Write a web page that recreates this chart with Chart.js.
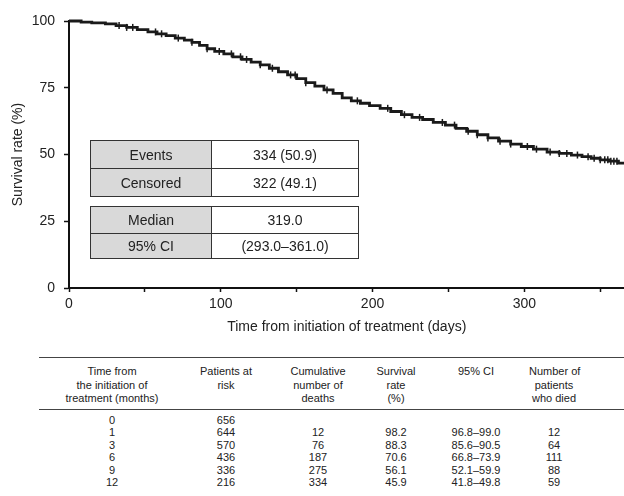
<!DOCTYPE html>
<html>
<head>
<meta charset="utf-8">
<script src="https://cdn.jsdelivr.net/npm/chart.js@4"></script>
<style>
  body { margin: 0; width: 624px; height: 496px; background: #fff; position: relative; overflow: hidden;
         font-family: "Liberation Sans", Arial, sans-serif; color: #222; }
  #wrap { position: absolute; left: 0; top: 0; width: 624px; height: 340px; overflow: hidden; }
  .inset { position: absolute; left: 90px; width: 269px; border-collapse: collapse; font-size: 14px; }
  .inset td { border: 1px solid #333; text-align: center; padding: 0; }
  .inset td.k { background: #d9d9d9; width: 120px; }
  #risk { position: absolute; left: 39px; top: 357px; width: 585px; border-collapse: collapse;
          table-layout: fixed; font-size: 11px; color: #222; }
  #risk th { font-weight: normal; vertical-align: top; line-height: 13.5px; padding: 7px 0 3px 0;
             border-top: 1.5px solid #444; border-bottom: 1px solid #444; white-space: nowrap; }
  #risk td { text-align: center; line-height: 12.6px; padding: 0; white-space: nowrap; }
  #risk tbody tr:first-child td { padding-top: 4px; }
</style>
</head>
<body>
<div id="wrap"><canvas id="myChart" width="630" height="340"></canvas></div>

<table class="inset" style="top:140px;">
  <tr style="height:28px"><td class="k">Events</td><td>334 (50.9)</td></tr>
  <tr style="height:28px"><td class="k">Censored</td><td>322 (49.1)</td></tr>
</table>
<table class="inset" style="top:206px;">
  <tr style="height:27px"><td class="k">Median</td><td>319.0</td></tr>
  <tr style="height:25px"><td class="k">95% CI</td><td>(293.0–361.0)</td></tr>
</table>

<table id="risk">
  <colgroup>
    <col style="width:146px"><col style="width:82px"><col style="width:102px">
    <col style="width:54px"><col style="width:106px"><col style="width:50px"><col style="width:45px">
  </colgroup>
  <thead><tr id="riskHead"></tr></thead>
  <tbody id="riskBody"></tbody>
</table>

<script>
// Kaplan-Meier curve (days, survival %)
const eventDays = [0, 8, 15, 24, 31, 38, 45, 52, 58, 64, 70, 76, 81, 86, 91, 96, 102, 108, 114, 120,
  126, 132, 138, 144, 150, 156, 162, 168, 174, 180, 186, 192, 198, 205, 212, 219, 226, 233, 240, 248,
  255, 262, 269, 276, 283, 291, 298, 306, 315, 323, 331, 338, 344, 350, 356, 362, 366];
const survival = [100, 99.6, 99.3, 98.9, 98.3, 97.6, 96.8, 95.9, 95.2, 94.5, 93.6, 92.8, 92.0, 90.9,
  89.6, 88.6, 87.7, 86.6, 85.6, 84.6, 83.6, 82.3, 81.0, 79.8, 78.4, 76.9, 75.6, 74.2, 72.9, 71.2, 70.1,
  69.2, 68.3, 67.3, 66.1, 64.9, 63.9, 63.1, 62.0, 61.0, 59.8, 58.7, 57.4, 56.2, 55.0, 53.9, 53.0, 52.0,
  50.9, 50.4, 49.8, 49.2, 48.6, 48.0, 47.5, 46.8, 46.8];
// censor marks (days)
const censorDays = [33, 38, 42, 57, 61, 72, 81, 91, 99, 107, 113, 117, 126, 134, 146, 149, 156, 170,
  190, 210, 221, 231, 246, 254, 263, 269, 276, 284, 291, 302, 308, 317, 323, 328, 335, 342, 346, 350,
  353, 355, 357, 359, 361];

// number-at-risk table
const riskHeaders = ["Time from<br>the initiation of<br>treatment (months)", "Patients at<br>risk",
  "Cumulative<br>number of<br>deaths", "Survival<br>rate<br>(%)", "95% CI", "Number of<br>patients<br>who died", ""];
const riskMonths = ["0", "1", "3", "6", "9", "12"];
const riskAtRisk = ["656", "644", "570", "436", "336", "216"];
const riskCumDeaths = ["", "12", "76", "187", "275", "334"];
const riskRate = ["", "98.2", "88.3", "70.6", "56.1", "45.9"];
const riskCI = ["", "96.8–99.0", "85.6–90.5", "66.8–73.9", "52.1–59.9", "41.8–49.8"];
const riskDied = ["", "12", "64", "111", "88", "59"];

document.getElementById('riskHead').innerHTML = riskHeaders.map(h => '<th>' + h + '</th>').join('');
let rows = '';
for (let i = 0; i < riskMonths.length; i++) {
    rows += '<tr><td>' + riskMonths[i] + '</td><td>' + riskAtRisk[i] + '</td><td>' + riskCumDeaths[i] +
        '</td><td>' + riskRate[i] + '</td><td>' + riskCI[i] + '</td><td>' + riskDied[i] + '</td><td></td></tr>';
}
document.getElementById('riskBody').innerHTML = rows;

function survAt(day) {
    let s = survival[0];
    for (let i = 0; i < eventDays.length; i++) {
        if (eventDays[i] <= day) s = survival[i];
    }
    return s;
}

const fontFam = '"Liberation Sans", Arial, sans-serif';
let ctx = document.getElementById("myChart").getContext("2d");
let myChart = new Chart(ctx, {
    type: "line",
    data: {
        datasets: [{
            data: eventDays.map((d, i) => ({x: d, y: survival[i]})),
            borderColor: "#1a1a1a",
            borderWidth: 2.8,
            stepped: true,
            pointRadius: 0,
            clip: false,
        }, {
            type: "scatter",
            data: censorDays.map(d => ({x: d, y: survAt(d)})),
            pointStyle: "line",
            rotation: 90,
            radius: 3.5,
            borderColor: "#1a1a1a",
            borderWidth: 1.5,
            clip: false,
        }],
    },
    options: {
        responsive: false,
        animation: false,
        layout: {padding: {top: 21, right: 0, left: 0, bottom: 0}},
        plugins: {legend: {display: false}, tooltip: {enabled: false}},
        scales: {
            x: {
                type: "linear",
                min: 0,
                max: 366,
                afterFit: (s) => { s.height = 52; },
                border: {color: "#111", width: 2},
                grid: {drawOnChartArea: false, drawTicks: true, tickLength: 4, tickColor: "#111", tickWidth: 1.5},
                ticks: {
                    stepSize: 50, includeBounds: false, padding: 4, color: "#222",
                    font: {family: fontFam, size: 14},
                    maxRotation: 0, autoSkip: false,
                    callback: (v) => (v % 100 === 0 ? v : ""),
                },
                title: {display: true, text: "Time from initiation of treatment (days)", color: "#222",
                    font: {family: fontFam, size: 14}, padding: 4},
            },
            y: {
                min: 0,
                max: 100,
                afterFit: (s) => { s.width = 69; },
                border: {color: "#111", width: 2},
                grid: {drawOnChartArea: false, drawTicks: true, tickLength: 5, tickColor: "#111", tickWidth: 1.5},
                ticks: {stepSize: 25, padding: 9, color: "#222", font: {family: fontFam, size: 14}},
                title: {display: true, text: "Survival rate (%)", color: "#222",
                    font: {family: fontFam, size: 14}, padding: {top: 10, bottom: 0}},
            },
        },
    },
});
</script>
</body>
</html>
